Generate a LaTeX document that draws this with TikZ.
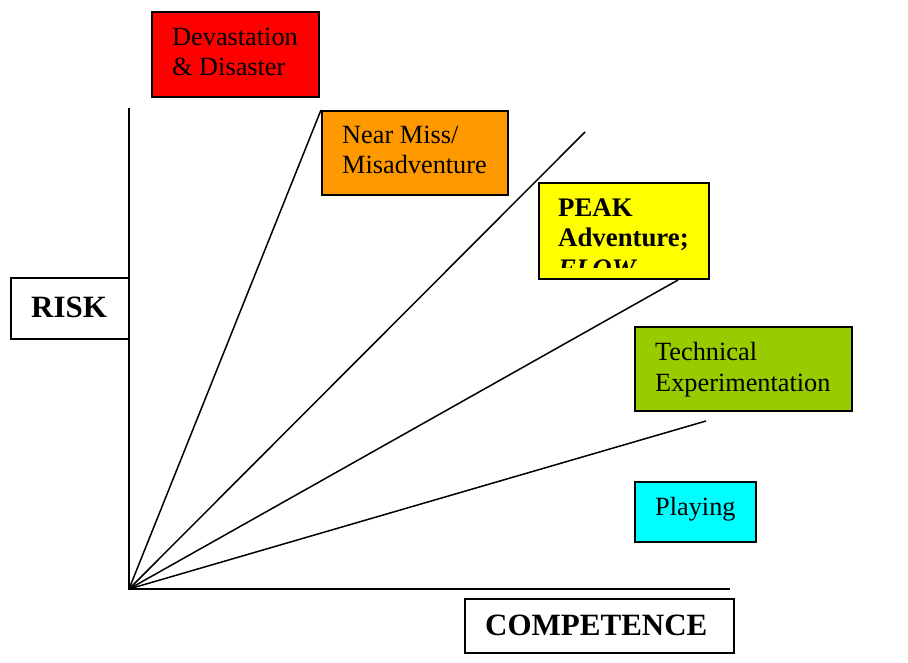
\documentclass[tikz,border=0pt]{standalone}
\usepackage{fontspec}
\setmainfont{Liberation Serif}
\definecolor{cRed}{HTML}{FF0000}
\definecolor{cOrange}{HTML}{FF9900}
\definecolor{cYellow}{HTML}{FFFF00}
\definecolor{cGreen}{HTML}{99CC00}
\definecolor{cCyan}{HTML}{00FFFF}
\begin{document}
\begin{tikzpicture}[x=1pt,y=-1pt,
  box/.style={draw=black,line width=2pt,rectangle,inner sep=0pt,anchor=north west},
  lbl/.style={anchor=base west,inner sep=0pt,font=\fontsize{26.3}{31}\selectfont},
  blbl/.style={anchor=base west,inner sep=0pt,font=\fontsize{31}{35}\selectfont\bfseries},
  plbl/.style={anchor=base west,inner sep=0pt,font=\fontsize{26.8}{31}\selectfont\bfseries},
  axis/.style={line width=2pt},
  ray/.style={line width=1.5pt}]
\useasboundingbox (0,0) rectangle (908,663);
% axes
\coordinate (O) at (129,589);
\coordinate (ytop) at (129,108);
\coordinate (xend) at (730,589);
\draw[axis] (ytop) -- (O) -- (xend);
% rays
\coordinate (r1) at (321,110);
\coordinate (r2) at (585,132);
\coordinate (r3) at (678,280);
\coordinate (r4) at (706,421);
\draw[ray] (O) -- (r1);
\draw[ray] (O) -- (r2);
\draw[ray] (O) -- (r3);
\draw[ray] (O) -- (r4);
% boxes
\node[box,fill=cOrange,minimum width=186pt,minimum height=84pt] (near) at (321,110) {};
\node[box,fill=cRed,minimum width=167pt,minimum height=85pt] (dev) at (151,11) {};
\node[box,fill=cYellow,minimum width=170pt,minimum height=96pt] (peak) at (538,182) {};
\node[box,fill=cGreen,minimum width=217pt,minimum height=84pt] (tech) at (634,326) {};
\node[box,fill=cCyan,minimum width=121pt,minimum height=60pt] (play) at (634,481) {};
\node[box,fill=white,minimum width=118pt,minimum height=61pt] (risk) at (10,277) {};
\node[box,fill=white,minimum width=269pt,minimum height=54pt] (comp) at (464,598) {};
% texts
\node[lbl] (t1a) at (172,46) {Devastation};
\node[lbl] (t1b) at (172,76) {\& Disaster};
\node[lbl] (t2a) at (342,144) {Near Miss/};
\node[lbl] (t2b) at (342,174) {Misadventure};
\node[plbl] (t3a) at (558,217) {PEAK};
\node[plbl] (t3b) at (558,247) {Adventure;};
\begin{scope}
  \clip (540,184) rectangle (706,268);
  \node[plbl] (t3c) at (558,278) {\itshape FLOW};
\end{scope}
\node[lbl] (t4a) at (655,360) {Technical};
\node[lbl] (t4b) at (655,391) {Experimentation};
\node[lbl] (t5) at (655,515) {Playing};
\node[blbl] (t6) at (31,317) {RISK};
\node[blbl] (t7) at (485,635) {COMPETENCE};
\end{tikzpicture}
\end{document}
